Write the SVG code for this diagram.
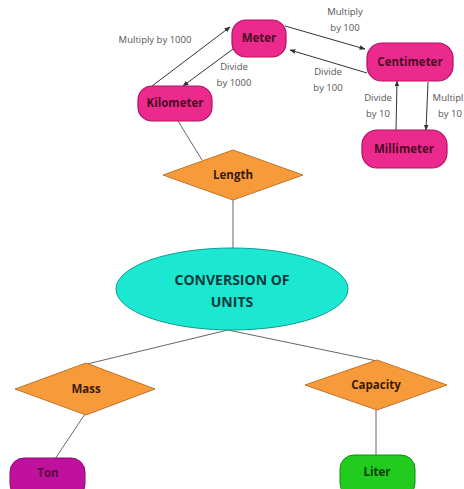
<svg xmlns="http://www.w3.org/2000/svg" width="464" height="489" viewBox="0 0 464 489">
<defs>
<marker id="ah" viewBox="0 0 10 10" refX="9" refY="5" markerWidth="6" markerHeight="6" orient="auto">
<path d="M0,1 L10,5 L0,9 z" fill="#333"/>
</marker>
<style>
.pk{fill:#EC2A8E;stroke:#B01262;stroke-width:1.2}
.dm{fill:#F79A3A;stroke:#C0742A;stroke-width:1}
.nt{font-family:"Open Sans","Liberation Sans",sans-serif;font-weight:bold;font-size:11.5px;fill:#4A0A22;text-anchor:middle}
.dt{font-family:"Open Sans","Liberation Sans",sans-serif;font-weight:bold;font-size:11.5px;fill:#3A1A0A;text-anchor:middle}
.lb{font-family:"Open Sans","Liberation Sans",sans-serif;font-size:9.5px;fill:#555;text-anchor:middle}
.ln{stroke:#666;stroke-width:1;fill:none}
.ar{stroke:#333;stroke-width:1;fill:none;marker-end:url(#ah)}
</style>
</defs>
<rect width="464" height="489" fill="#fff"/>
<g id="connectors">
<line class="ln" x1="178" y1="121" x2="202" y2="160"/>
<line class="ln" x1="233" y1="200" x2="233" y2="248"/>
<line class="ln" x1="228" y1="330" x2="87" y2="364"/>
<line class="ln" x1="228" y1="330" x2="377" y2="361"/>
<line class="ln" x1="85" y1="414" x2="55" y2="459"/>
<line class="ln" x1="376" y1="409" x2="376" y2="456"/>
<line class="ar" x1="152" y1="86" x2="230" y2="27"/>
<line class="ar" x1="233" y1="49" x2="183" y2="86"/>
<line class="ar" x1="285" y1="26" x2="365" y2="49"/>
<line class="ar" x1="367" y1="73" x2="290" y2="50"/>
<line class="ar" x1="396" y1="130" x2="397" y2="81"/>
<line class="ar" x1="428" y1="82" x2="426" y2="130"/>
</g>
<g id="labels">
<text class="lb" x="155" y="43">Multiply by 1000</text>
<text class="lb" x="234" y="70">Divide</text>
<text class="lb" x="234" y="86">by 1000</text>
<text class="lb" x="345" y="15">Multiply</text>
<text class="lb" x="345" y="31">by 100</text>
<text class="lb" x="328" y="75">Divide</text>
<text class="lb" x="328" y="91">by 100</text>
<text class="lb" x="378" y="101">Divide</text>
<text class="lb" x="378" y="117">by 10</text>
<text class="lb" x="448" y="101">Multipl</text>
<text class="lb" x="450" y="117">by 10</text>
</g>
<g id="meter"><rect class="pk" x="232" y="20" width="54" height="37" rx="14"/><text class="nt" x="259" y="42">Meter</text></g>
<g id="kilometer"><rect class="pk" x="138" y="86" width="74" height="35" rx="14"/><text class="nt" x="175" y="107">Kilometer</text></g>
<g id="centimeter"><rect class="pk" x="367" y="43" width="86" height="38" rx="15"/><text class="nt" x="410" y="66">Centimeter</text></g>
<g id="millimeter"><rect class="pk" x="362" y="130" width="85" height="38" rx="15"/><text class="nt" x="404" y="153">Millimeter</text></g>
<g id="length"><polygon class="dm" points="163,175 233,150 303,175 233,200"/><text class="dt" x="233" y="179">Length</text></g>
<g id="conversion"><ellipse cx="232" cy="289" rx="116" ry="41" fill="#1CE8D2" stroke="#0E9C92" stroke-width="1"/><text x="232" y="285" font-family="'Open Sans','Liberation Sans',sans-serif" font-weight="bold" font-size="14" fill="#0A3A3A" text-anchor="middle">CONVERSION OF</text><text x="232" y="307" font-family="'Open Sans','Liberation Sans',sans-serif" font-weight="bold" font-size="14" fill="#0A3A3A" text-anchor="middle">UNITS</text></g>
<g id="mass"><polygon class="dm" points="15,389 86,363 155,389 86,415"/><text class="dt" x="86" y="393">Mass</text></g>
<g id="capacity"><polygon class="dm" points="305,385 377,360 447,385 377,410"/><text class="dt" x="376" y="389">Capacity</text></g>
<g id="ton"><rect x="10" y="458" width="75" height="40" rx="14" fill="#C0109E" stroke="#8A0A70" stroke-width="1"/><text class="nt" x="48" y="477" style="fill:#5A0A3A">Ton</text></g>
<g id="liter"><rect x="340" y="455" width="75" height="42" rx="14" fill="#22CC1E" stroke="#118A10" stroke-width="1"/><text class="nt" x="377" y="476" style="fill:#0A3A0A">Liter</text></g>
</svg>
